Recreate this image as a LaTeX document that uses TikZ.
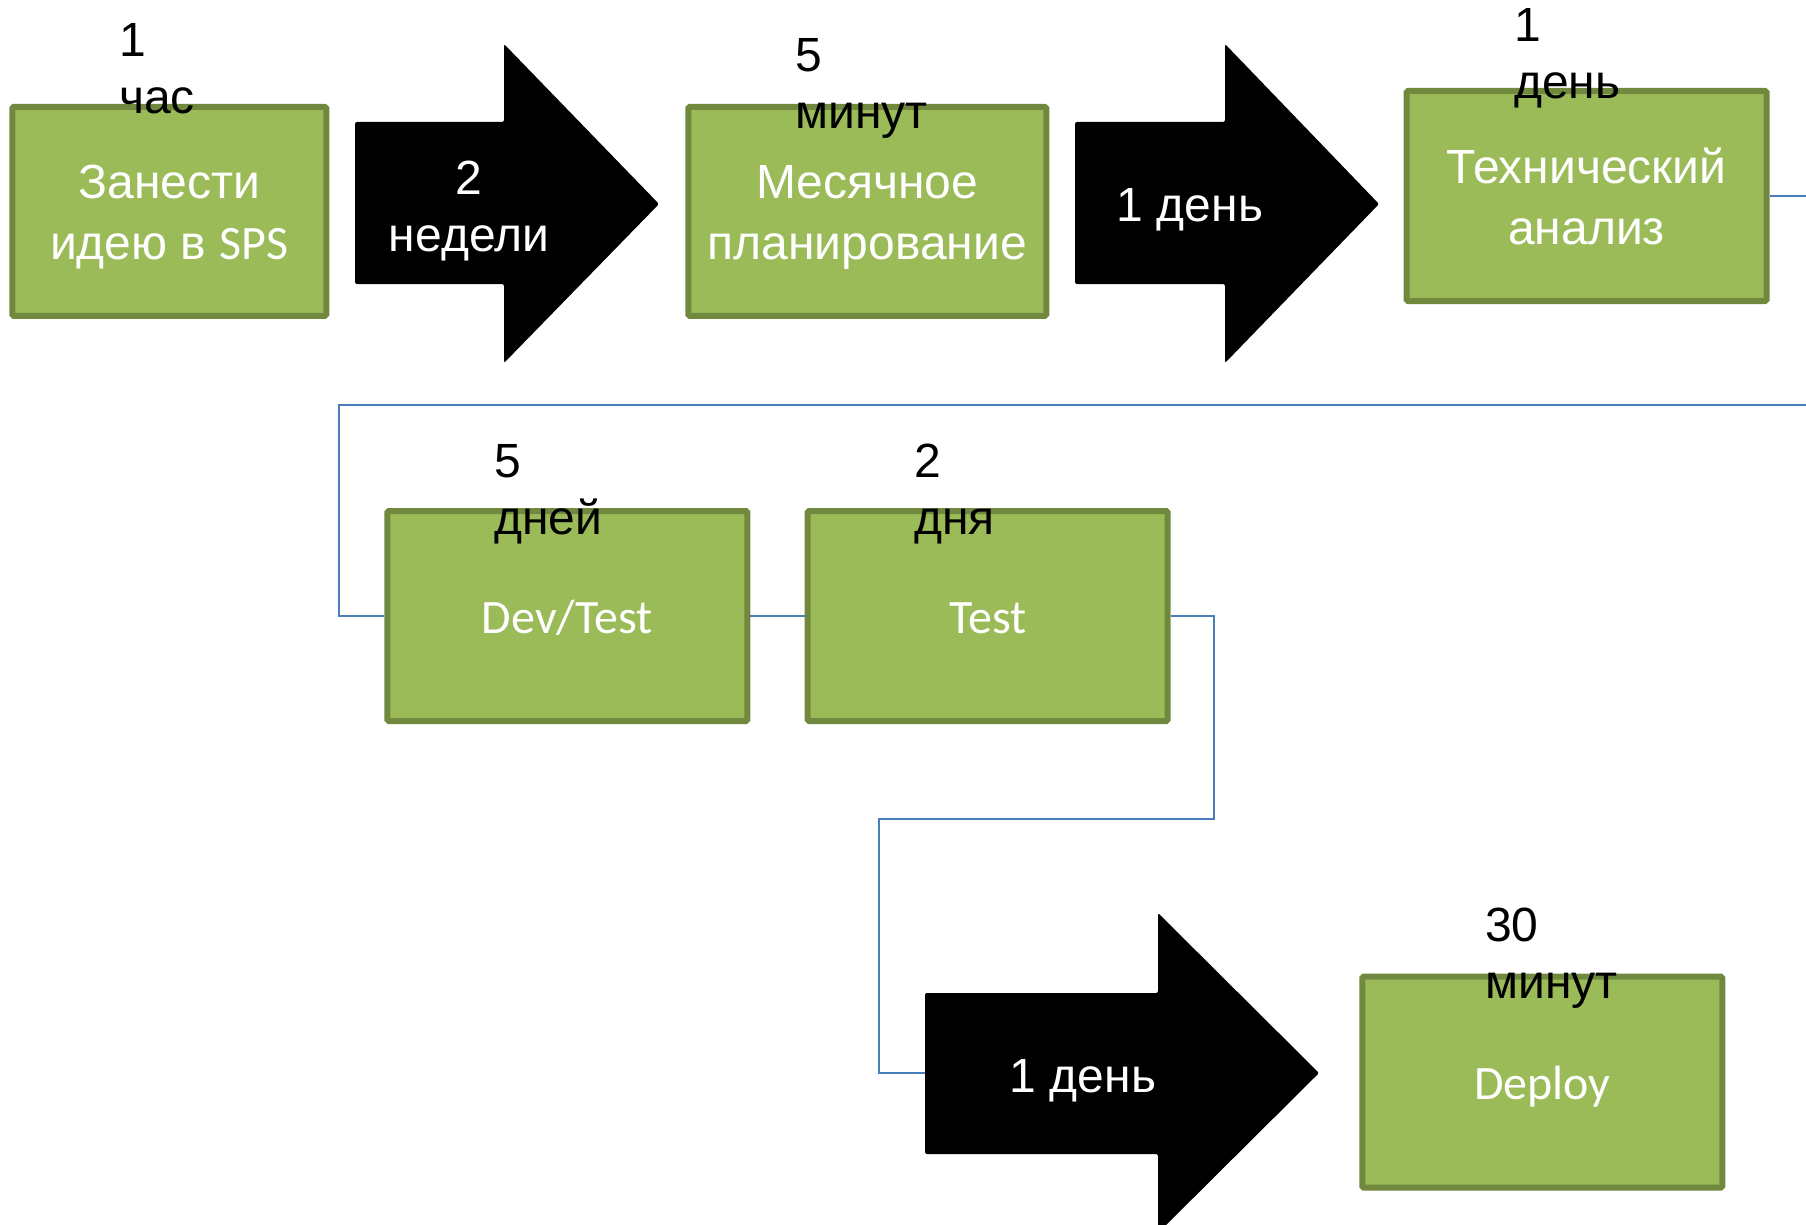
\documentclass[tikz,border=0pt]{standalone}
\usepackage{fontspec}
\setmainfont{Liberation Sans}
\newfontfamily\latinfont{Carlito}
\definecolor{boxfill}{HTML}{9BBB59}
\definecolor{boxedge}{HTML}{71893F}
\definecolor{linkblue}{HTML}{4A7EBB}
% fixed line boxes so that every label is centred the same way
\newcommand\twobox{\rule[-12pt]{0pt}{60pt}}
\newcommand\onebox{\rule[-12pt]{0pt}{58pt}}
\newcommand\arrbox{\rule[-12pt]{0pt}{54pt}}
\newcommand\lat[1]{{\latinfont\fontsize{48}{57}\selectfont #1}}
\begin{document}
\begin{tikzpicture}[x=1pt,y=-1pt,
  txt/.style={font=\fontsize{48}{57}\selectfont},
  lat/.style={font=\latinfont\fontsize{48}{57}\selectfont},
  stage/.style={txt, draw=boxedge, fill=boxfill, line width=6pt,
    rounded corners=1.5pt, text=white, align=center, inner sep=0pt,
    minimum width=360pt, minimum height=210pt},
  timing/.style={font=\fontsize{48}{57}\selectfont, text=black, align=left,
    inner sep=0pt, anchor=north west},
  arrowtxt/.style={font=\fontsize{48}{57}\selectfont, text=white,
    align=center, inner sep=0pt},
  bigarrow/.style={fill=black, rounded corners=2pt},
  conn/.style={draw=linkblue, line width=1.6pt}]
\useasboundingbox (0,0) rectangle (1806,1225);
\clip (0,0) rectangle (1806,1225);

% process stages
\node[stage, minimum width=314pt, minimum height=209pt] (idea) at (169.3,211.4) {\twobox Занести\\идею в \lat{SPS}\twobox};
\node[stage, minimum width=358pt, minimum height=209pt] (plan) at (867.3,211.4) {\twobox Месячное\\планирование\twobox};
\node[stage] (tech) at (1586.6,196) {\twobox Технический\\анализ\twobox};
\node[stage, lat] (dev) at (567.3,616) {\onebox Dev/Test};
\node[stage, lat] (test) at (987.7,616) {\onebox Test};
\node[stage, lat, minimum height=211pt] (deploy) at (1542.3,1082.1) {\onebox Deploy};

% durations of each stage
\node[timing] (tidea) at (119,23) {1\\час};
\node[timing] (tplan) at (795,38) {5\\минут};
\node[timing] (ttech) at (1514,8) {1\\день};
\node[timing] (tdev) at (494,444) {5\\дней};
\node[timing] (ttest) at (914,444) {2\\дня};
\node[timing] (tdeploy) at (1485,908) {30\\минут};

% waiting times between stages
\fill[bigarrow] (355,122) -- (504,122) -- (504,44) -- (659,204) -- (504,363) -- (504,284) -- (355,284) -- cycle;
\fill[bigarrow] (1075,122) -- (1225,122) -- (1225,44) -- (1379,204) -- (1225,363) -- (1225,284) -- (1075,284) -- cycle;
\fill[bigarrow] (925,993) -- (1158,993) -- (1158,913) -- (1319,1073) -- (1158,1233) -- (1158,1154) -- (925,1154) -- cycle;
\coordinate (wait3w) at (925,1073);
\node[arrowtxt] (wait1) at (469,207.5) {\arrbox 2\\недели\arrbox};
\node[arrowtxt] (wait2) at (1190,206.5) {\arrbox 1 день};
\node[arrowtxt] (wait3) at (1083,1077.5) {\arrbox 1 день};

% flow connectors
\draw[conn] (tech.east) -- ++(70,0) |- (339,405) |- (dev.west);
\draw[conn] (dev.east) -- (test.west);
\draw[conn] (test.east) -- ++(43,0) |- (879,819) |- (wait3w);
\end{tikzpicture}
\end{document}
